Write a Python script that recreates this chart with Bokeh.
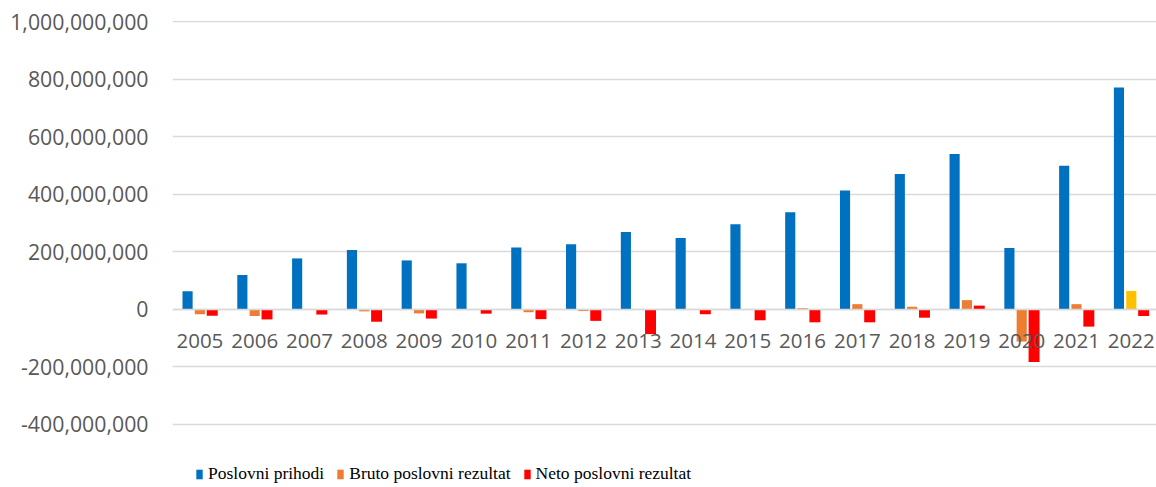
import numpy as np
from bokeh.plotting import figure
from bokeh.models import (Range1d, FixedTicker, NumeralTickFormatter, Legend,
                          LegendItem, ColumnDataSource)
from bokeh.transform import dodge
from bokeh.embed import file_html
from bokeh.resources import INLINE

# ---------------- data ----------------
years = ["2005", "2006", "2007", "2008", "2009", "2010", "2011", "2012", "2013",
         "2014", "2015", "2016", "2017", "2018", "2019", "2020", "2021", "2022"]
poslovni_prihodi = [63e6, 119e6, 177e6, 206e6, 170e6, 160e6, 215e6, 226e6, 269e6,
                    248e6, 296e6, 337e6, 413e6, 470e6, 540e6, 213e6, 499e6, 771e6]
bruto_rezultat = [-17e6, -23e6, -2e6, -7e6, -14e6, -1e6, -10e6, -6e6, -1e6,
                  -1e6, -1e6, 4e6, 18e6, 9e6, 32e6, -112e6, 18e6, 64e6]
neto_rezultat = [-22e6, -35e6, -18e6, -43e6, -32e6, -15e6, -34e6, -40e6, -86e6,
                 -17e6, -38e6, -45e6, -45e6, -29e6, 13e6, -183e6, -60e6, -23e6]
series_names = ["Poslovni prihodi", "Bruto poslovni rezultat", "Neto poslovni rezultat"]
y_ticks = [-400e6, -200e6, 0, 200e6, 400e6, 600e6, 800e6, 1000e6]

# ---------------- styles ----------------
BLUE = "#0070C0"
ORANGE = "#ED7D31"
RED = "#FF0000"
GOLD = "#FFC000"
GRID = "#D9D9D9"
TXT = "#595959"
bruto_colors = [ORANGE] * (len(years) - 1) + [GOLD]

src = ColumnDataSource(dict(
    x=list(range(len(years))),
    prihodi=poslovni_prihodi,
    bruto=bruto_rezultat,
    neto=neto_rezultat,
    bruto_color=bruto_colors,
))

# frame spans to the bottom of the canvas; the extra room below -400M holds the legend
p = figure(width=1156, height=487, output_backend="svg", toolbar_location=None,
           x_range=Range1d(-0.5, 17.46), y_range=Range1d(-618.9e6, 1003.5e6),
           min_border_left=172, min_border_right=0, min_border_top=20,
           min_border_bottom=0)
p.outline_line_color = None
p.background_fill_color = "white"
p.border_fill_color = "white"

r1 = p.vbar(x=dodge("x", -0.225), top="prihodi", bottom=0, width=0.185,
            source=src, fill_color=BLUE, line_color=None)
r2 = p.vbar(x=dodge("x", 0.0), top="bruto", bottom=0, width=0.185,
            source=src, fill_color="bruto_color", line_color=None)
r3 = p.vbar(x=dodge("x", 0.225), top="neto", bottom=0, width=0.2,
            source=src, fill_color=RED, line_color=None)

# y axis
p.yaxis.ticker = FixedTicker(ticks=y_ticks)
p.yaxis.formatter = NumeralTickFormatter(format="0,0")
p.yaxis.axis_line_color = None
p.yaxis.major_tick_line_color = None
p.yaxis.minor_tick_line_color = None
p.yaxis.major_label_text_font = "Open Sans"
p.yaxis.major_label_text_font_size = "21.3px"
p.yaxis.major_label_text_color = TXT
p.yaxis.major_label_standoff = 18

p.ygrid.ticker = FixedTicker(ticks=y_ticks)
p.ygrid.grid_line_color = GRID
p.ygrid.grid_line_width = 1.3
p.xgrid.grid_line_color = None

# x axis at zero
p.xaxis.fixed_location = 0
p.xaxis.ticker = FixedTicker(ticks=list(range(len(years))))
p.xaxis.major_label_overrides = {i: y for i, y in enumerate(years)}
p.xaxis.axis_line_color = GRID
p.xaxis.axis_line_width = 1.6
p.xaxis.major_tick_line_color = None
p.xaxis.minor_tick_line_color = None
p.xaxis.major_label_text_font = "Open Sans"
p.xaxis.major_label_text_font_size = "20.5px"
p.xaxis.major_label_text_color = TXT
p.xaxis.major_label_standoff = 19

legend = Legend(items=[
    LegendItem(label=series_names[0], renderers=[r1]),
    LegendItem(label=series_names[1], renderers=[r2]),
    LegendItem(label=series_names[2], renderers=[r3]),
], location=(23, 3), orientation="horizontal")
legend.label_text_font = "Liberation Serif"
legend.label_text_font_size = "17.5px"
legend.label_text_color = "black"
legend.glyph_width = 8
legend.glyph_height = 12
legend.label_standoff = 5
legend.spacing = 12
legend.padding = 0
legend.margin = 0
legend.border_line_color = None
legend.background_fill_alpha = 0
p.add_layout(legend, "center")

open("out.html", "w").write(file_html(p, INLINE))
